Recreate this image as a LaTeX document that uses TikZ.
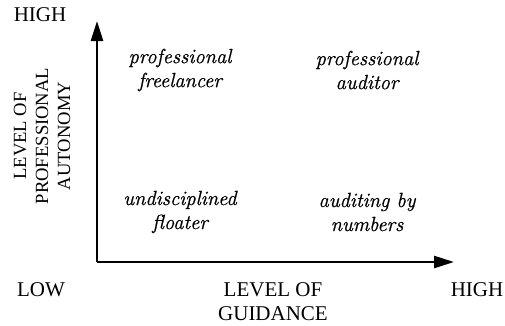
\documentclass[tikz,border=0pt]{standalone}
\usepackage{fontspec}
\newfontfamily\lmfam{Latin Modern Roman}[ItalicFeatures={FakeBold=0.8}]
\setmainfont{Liberation Serif}
\usetikzlibrary{arrows.meta}
\begin{document}
\begin{tikzpicture}[x=1pt,y=1pt,
  lbl/.style={font=\fontsize{21}{24}\selectfont, align=center, inner sep=0pt},
  vlbl/.style={font=\fontsize{18.6}{22}\selectfont, align=center, inner sep=0pt},
  quad/.style={lbl, font=\fontsize{20.5}{24}\selectfont\lmfam\itshape},
  axis/.style={line width=2.6pt, -{Triangle[length=20pt,width=12pt]}}]
\useasboundingbox (0,0) rectangle (505,325);
\coordinate (o) at (97,63);
\coordinate (ytip) at (97,304);
\coordinate (xtip) at (454,63);
\draw[axis] (o) -- (ytip);
\draw[axis] (o) -- (xtip);
\node[quad] (pf) at (180,255) {professional\\freelancer};
\node[quad] (pa) at (367,255) {professional\\auditor};
\node[quad] (uf) at (180,113) {undisciplined\\floater};
\node[quad] (an) at (367,113) {auditing by\\numbers};
\node[lbl] (hy) at (40,310) {HIGH};
\node[lbl] (lo) at (41,35) {LOW};
\node[lbl] (hx) at (477,35) {HIGH};
\node[lbl] (gx) at (273,23) {LEVEL OF\\GUIDANCE};
\node[vlbl, rotate=90] (ay) at (42,189) {LEVEL OF\\PROFESSIONAL\\AUTONOMY};
\end{tikzpicture}
\end{document}
